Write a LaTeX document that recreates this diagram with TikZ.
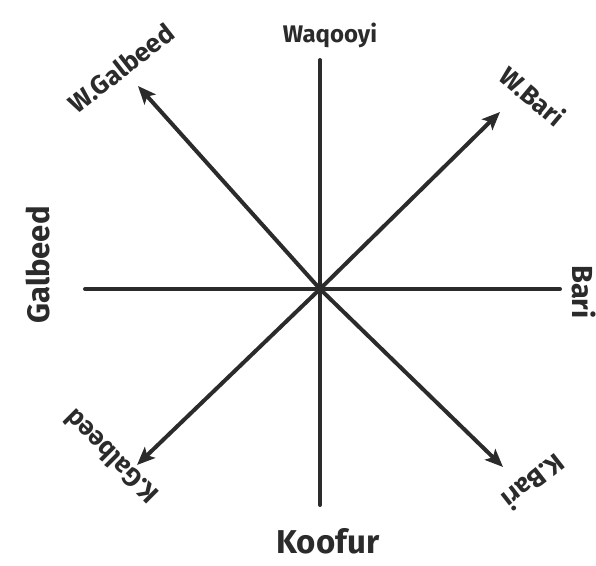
\documentclass[tikz,border=0pt]{standalone}
\usepackage{fontspec}
\setmainfont{Fira Sans}
\usetikzlibrary{arrows.meta}
\definecolor{ink}{HTML}{2B2B2B}
\tikzset{
  ray/.style={draw=ink, line width=4pt, line cap=round},
  arrray/.style={ray, -{Stealth[length=18pt, width=15pt, inset=4pt]}},
  dirlbl/.style={text=ink, font=\bfseries\fontsize{26}{26}\selectfont, inner sep=0pt}
}
\begin{document}
\begin{tikzpicture}[x=1pt, y=1pt]
  \useasboundingbox (-320,-276) rectangle (276,289);
  \coordinate (o) at (0,0);
  % cardinal ends
  \coordinate (n) at (0,229);
  \coordinate (s) at (0,-216);
  \coordinate (w) at (-235,0);
  \coordinate (e) at (240,0);
  % diagonal ends
  \coordinate (nw) at (-182,203);
  \coordinate (ne) at (180,177);
  \coordinate (sw) at (-183,-176);
  \coordinate (se) at (183,-178);
  % labels
  \node[dirlbl, font=\bfseries\fontsize{24}{24}\selectfont] (lN) at (10,254) {Waqooyi};
  \node[dirlbl, font=\bfseries\fontsize{33}{33}\selectfont] (lS) at (8,-252) {Koofur};
  \node[dirlbl, rotate=90, font=\bfseries\fontsize{31}{31}\selectfont] (lW) at (-282,24) {Galbeed};
  \node[dirlbl, rotate=-90, font=\bfseries\fontsize{29}{29}\selectfont] (lE) at (264,-3) {Bari};
  \node[dirlbl, rotate=38] (lNW) at (-199,221) {W.Galbeed};
  \node[dirlbl, rotate=-40] (lNE) at (213,193) {W.Bari};
  \node[dirlbl, rotate=135] (lSW) at (-209,-168) {K.Galbeed};
  \node[dirlbl, rotate=-142] (lSE) at (214,-193) {K.Bari};
  % rays
  \foreach \t in {n,s,w,e} \draw[ray] (o)--(\t);
  \foreach \t in {nw,ne,sw,se} \draw[arrray] (o)--(\t);
\end{tikzpicture}
\end{document}
